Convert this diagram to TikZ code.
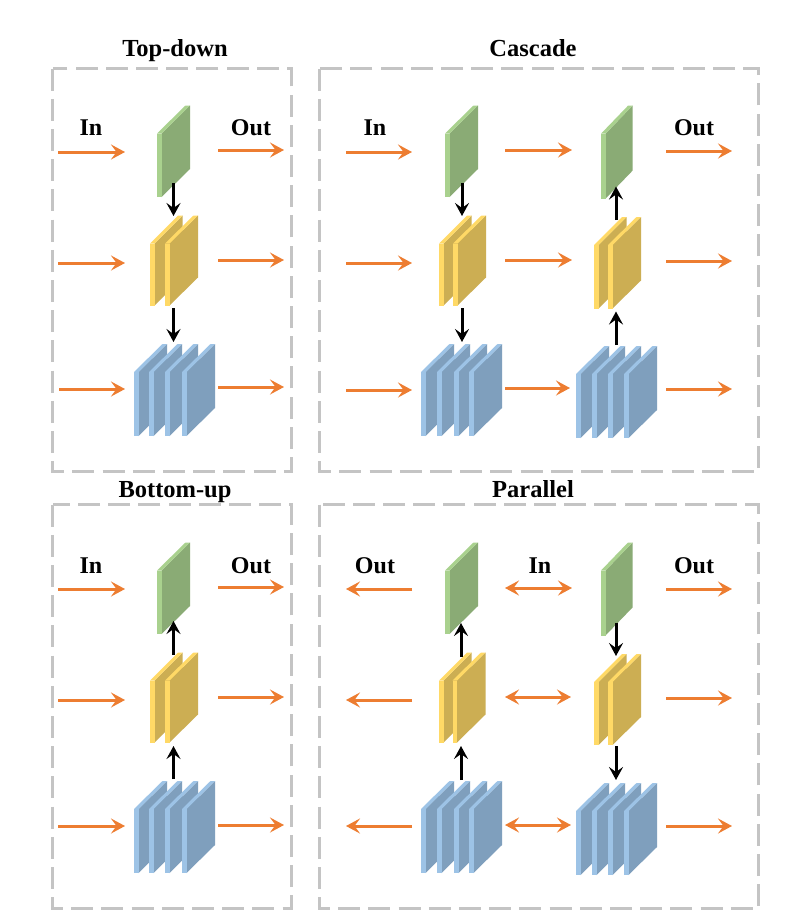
\documentclass[tikz,border=0pt]{standalone}
\usepackage{fontspec}
\setmainfont{Liberation Serif}
\usetikzlibrary{arrows.meta}
\definecolor{orangeline}{HTML}{ED7D31}
\definecolor{framegray}{HTML}{C4C4C4}
\definecolor{greenface}{HTML}{8AAB75}
\definecolor{greenlight}{HTML}{A9D18E}
\definecolor{yellowface}{HTML}{CCAE53}
\definecolor{yellowlight}{HTML}{FFD966}
\definecolor{blueface}{HTML}{7F9FBD}
\definecolor{bluelight}{HTML}{9DC3E6}
\tikzset{
  panel/.style={draw=framegray,line width=3pt,dash pattern=on 22pt off 8.2pt},
  flow/.style={draw=orangeline,line width=3pt,-{Stealth[length=14pt,width=15pt,inset=5.5pt]}},
  flowboth/.style={draw=orangeline,line width=3pt,{Stealth[length=14pt,width=15pt,inset=5.5pt]}-{Stealth[length=14pt,width=15pt,inset=5.5pt]}},
  link/.style={draw=black,line width=3pt,-{Stealth[length=13pt,width=14pt,inset=5pt]}},
  titletext/.style={font=\fontsize{24.5}{26}\selectfont\bfseries,inner sep=0pt,anchor=base},
  labeltext/.style={font=\fontsize{24}{26}\selectfont\bfseries,inner sep=0pt,anchor=base},
}
% x, y of strip top-left, strip height, face colour, light colour, depth
\newcommand{\plate}[6]{%
  \fill[#4] (#1+4.5,#2) -- ++(#6,-28) -- ++(0,#3) -- ++(-#6,28) -- cycle;
  \fill[#5] (#1,#2) -- ++(#6,-28) -- ++(4.5,0) -- ++(-#6,28) -- cycle;
  \fill[#5] (#1,#2) -- ++(4.5,0) -- ++(0,#3) -- ++(-4.5,0) -- cycle;
}
% x, y, height, depth
\newcommand{\greenstack}[4]{\plate{#1}{#2}{#3}{greenface}{greenlight}{#4}}
% x1, x2, y, height
\newcommand{\yellowstack}[4]{\plate{#1}{#3}{#4}{yellowface}{yellowlight}{28}\plate{#2}{#3}{#4}{yellowface}{yellowlight}{28.5}}
\newcommand{\bluestack}[5]{\plate{#1}{#5}{64}{blueface}{bluelight}{28.5}\plate{#2}{#5}{64}{blueface}{bluelight}{28.5}\plate{#3}{#5}{64}{blueface}{bluelight}{28.5}\plate{#4}{#5}{64}{blueface}{bluelight}{28.5}}
% style, name, start, end
\newcommand{\conn}[6]{\coordinate (#2s) at (#3,#4); \coordinate (#2e) at (#5,#6); \draw[#1] (#2s) -- (#2e);}
\begin{document}
\begin{tikzpicture}[x=1pt,y=-1pt]
\useasboundingbox (0,0) rectangle (801,924);
\fill[white] (0,0) rectangle (801,924);
% frames
\draw[panel] (52.6,68.6) rectangle (291.2,471.6);
\draw[panel] (319.6,68.6) rectangle (758.4,471.6);
\draw[panel] (52.6,504.6) rectangle (291.2,908.8);
\draw[panel] (319.6,504.6) rectangle (758.4,908.8);
% titles
\node[titletext] (t1) at (175,56) {Top-down};
\node[titletext] (t2) at (533,56) {Cascade};
\node[titletext] (t3) at (175,497) {Bottom-up};
\node[titletext] (t4) at (533,497) {Parallel};
% labels
\node[labeltext] (l1) at (91,135) {In};
\node[labeltext] (l2) at (251,135) {Out};
\node[labeltext] (l3) at (375,135) {In};
\node[labeltext] (l4) at (694,135) {Out};
\node[labeltext] (l5) at (91,573) {In};
\node[labeltext] (l6) at (251,573) {Out};
\node[labeltext] (l7) at (375,573) {Out};
\node[labeltext] (l8) at (540,573) {In};
\node[labeltext] (l9) at (694,573) {Out};
% stacks: top-down
\greenstack{157}{133.5}{63.5}{28.5}
\yellowstack{150}{165}{243.5}{62}
\bluestack{134}{149}{165}{182}{372}
% cascade
\greenstack{445}{133.5}{63.5}{28.5}
\yellowstack{439}{453}{243.5}{62}
\bluestack{421}{437}{454}{469}{372}
\greenstack{601}{133.7}{65}{27}
\yellowstack{594}{608}{245}{63.5}
\bluestack{576}{592}{608}{624}{374}
% bottom-up
\greenstack{157}{570.5}{63.5}{28.5}
\yellowstack{150}{165}{680.5}{62}
\bluestack{134}{149}{165}{182}{809}
% parallel
\greenstack{445}{570.5}{63.5}{28.5}
\yellowstack{439}{452.5}{680.5}{62}
\bluestack{421}{437}{454}{469}{809}
\greenstack{601}{570.5}{65}{27}
\yellowstack{594}{608}{682}{63}
\bluestack{576}{592}{608}{624}{811}
% top-down arrows
\conn{flow}{a1}{58}{152}{125}{152}
\conn{flow}{a2}{218}{150}{284}{150}
\conn{flow}{a3}{58}{263}{125}{263}
\conn{flow}{a4}{218}{260}{284}{260}
\conn{flow}{a5}{59}{389}{125}{389}
\conn{flow}{a6}{218}{387}{284}{387}
\conn{link}{a7}{173.5}{183}{173.5}{216}
\conn{link}{a8}{173.5}{308}{173.5}{342}
% cascade arrows
\conn{flow}{b1}{346}{152}{412}{152}
\conn{flow}{b2}{346}{263}{412}{263}
\conn{flow}{b3}{346}{390}{412}{390}
\conn{flow}{b4}{505}{150}{572}{150}
\conn{flow}{b5}{505}{260}{572}{260}
\conn{flow}{b6}{505}{388}{570}{388}
\conn{flow}{b7}{666}{151}{732}{151}
\conn{flow}{b8}{666}{261}{732}{261}
\conn{flow}{b9}{666}{389}{732}{389}
\conn{link}{b10}{462}{183}{462}{216}
\conn{link}{b11}{462}{308}{462}{342}
\conn{link}{b12}{616}{220}{616}{186.5}
\conn{link}{b13}{616}{345}{616}{311.5}
% bottom-up arrows
\conn{flow}{c1}{58}{589}{125}{589}
\conn{flow}{c2}{218}{587}{284}{587}
\conn{flow}{c3}{58}{700}{125}{700}
\conn{flow}{c4}{218}{697}{284}{697}
\conn{flow}{c5}{58}{826}{125}{826}
\conn{flow}{c6}{218}{825}{284}{825}
\conn{link}{c7}{173.5}{655}{173.5}{621}
\conn{link}{c8}{173.5}{779}{173.5}{746}
% parallel arrows
\conn{flow}{d1}{412}{589}{346}{589}
\conn{flow}{d2}{412}{700}{346}{700}
\conn{flow}{d3}{412}{826}{346}{826}
\conn{flowboth}{d4}{505}{588}{572}{588}
\conn{flowboth}{d5}{505}{697}{571}{697}
\conn{flowboth}{d6}{505}{825}{571}{825}
\conn{flow}{d7}{666}{589}{732}{589}
\conn{flow}{d8}{666}{698}{732}{698}
\conn{flow}{d9}{666}{826}{732}{826}
\conn{link}{d10}{461}{656.5}{461}{623}
\conn{link}{d11}{461}{780}{461}{746}
\conn{link}{d12}{616}{622.5}{616}{656}
\conn{link}{d13}{616}{746}{616}{780}
\end{tikzpicture}
\end{document}
